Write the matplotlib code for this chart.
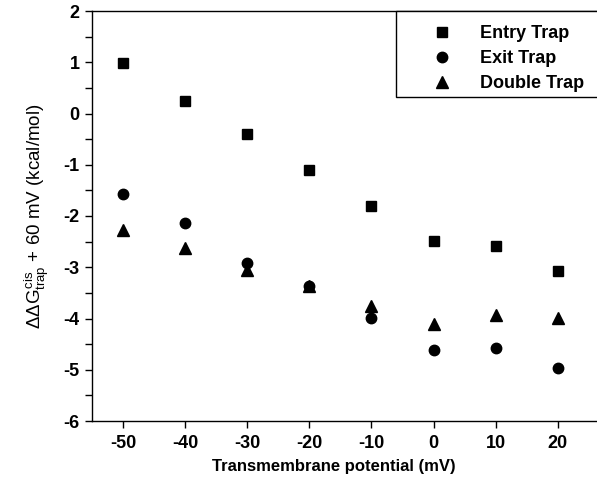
import matplotlib
matplotlib.use("Agg")
import matplotlib.pyplot as plt
from matplotlib.patches import Rectangle

potential = [-50, -40, -30, -20, -10, 0, 10, 20]
entry_trap = [0.99, 0.24, -0.40, -1.10, -1.80, -2.49, -2.58, -3.07]
exit_trap = [-1.57, -2.14, -2.92, -3.37, -3.99, -4.61, -4.58, -4.97]
double_trap = [-2.27, -2.62, -3.05, -3.37, -3.76, -4.11, -3.93, -3.99]
xticks = [-50, -40, -30, -20, -10, 0, 10, 20]
yticks = [-6, -5, -4, -3, -2, -1, 0, 1, 2]

plt.rcParams['font.family'] = ['Liberation Sans', 'DejaVu Sans']
plt.rcParams['mathtext.fontset'] = 'custom'
plt.rcParams['mathtext.rm'] = 'Liberation Sans'
plt.rcParams['mathtext.it'] = 'Liberation Sans'
plt.rcParams['mathtext.bf'] = 'Liberation Sans:bold'

W, H = 597, 488
fig = plt.figure(figsize=(W / 100, H / 100), dpi=100)
left, right, top, bottom = 92, 600, 11, 421
ax = fig.add_axes([left / W, 1 - bottom / H, (right - left) / W, (bottom - top) / H])

ms = dict(color='black', linestyle='none')
ax.plot(potential, entry_trap, marker='s', markersize=7, label='Entry Trap', **ms)
ax.plot(potential, exit_trap, marker='o', markersize=7.5, label='Exit Trap', **ms)
ax.plot(potential, double_trap, marker='^', markersize=8, label='Double Trap', **ms)

ax.set_xlim(-55, 26.8)
ax.set_ylim(-6, 2)
ax.set_xticks(xticks)
ax.set_xticklabels([str(v) for v in xticks], fontweight='bold', fontsize=13)
ax.set_yticks(yticks)
ax.set_yticklabels([str(v) for v in yticks], fontweight='bold', fontsize=13)
ax.set_yticks([v + 0.5 for v in yticks[:-1]], minor=True)
ax.tick_params(axis='both', which='both', direction='out', length=5, width=1, color='black')
ax.tick_params(axis='x', pad=5)
ax.tick_params(axis='y', pad=4)
for s in ['left', 'bottom', 'top']:
    ax.spines[s].set_linewidth(1.0)
ax.spines['right'].set_visible(False)

ax.set_xlabel('Transmembrane potential (mV)', fontweight='bold', fontsize=12)
ax.xaxis.set_label_coords((334 - left) / (right - left), -(467 - bottom) / (bottom - top), transform=ax.transAxes)
ax.xaxis.label.set_verticalalignment('center')
ax.set_ylabel(r'$\Delta\Delta G^{\rm cis}_{\rm trap}$ + 60 mV (kcal/mol)', fontsize=13.5)
ax.yaxis.set_label_coords(-(left - 37) / (right - left), 0.5, transform=ax.transAxes)
ax.yaxis.label.set_verticalalignment('center')

# legend box (extends past the right edge of the figure, as in the reference)
fig.patches.append(Rectangle((396 / W, 1 - 97 / H), 220 / W, 86 / H, transform=fig.transFigure,
                             facecolor='white', edgecolor='black', linewidth=1.0, zorder=5))
leg = fig.legend(loc='upper left', bbox_to_anchor=(396 / W, 1 - 15 / H),
                 frameon=False, prop={'weight': 'bold', 'size': 13}, handletextpad=0.1,
                 borderpad=0.55, labelspacing=0.45, handlelength=4, borderaxespad=0)
leg.set_zorder(6)

fig.savefig('out.png', dpi=100)
